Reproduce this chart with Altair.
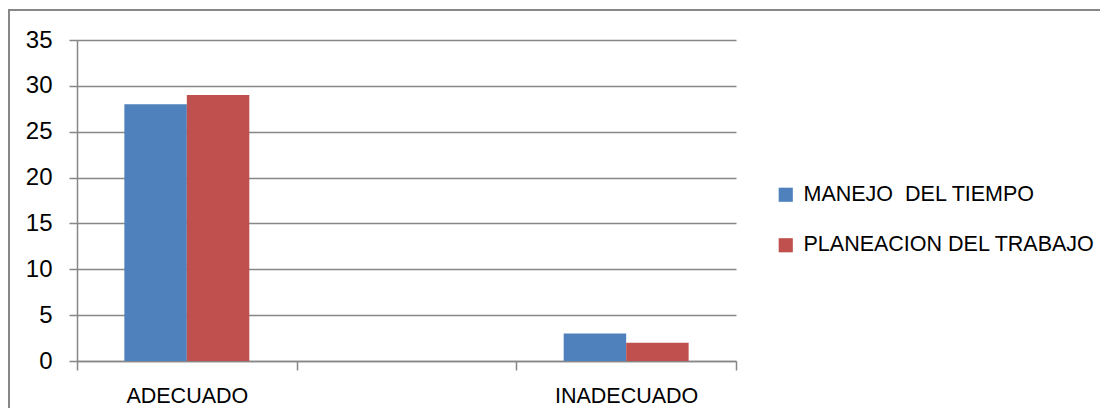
import altair as alt
import pandas as pd

categories = ["ADECUADO", " ", "INADECUADO"]
series = ["MANEJO \u00a0DEL TIEMPO", "PLANEACION DEL TRABAJO"]
manejo = [28, 3]
planeacion = [29, 2]
bar_cats = ["ADECUADO", "INADECUADO"]
y_ticks = [0, 5, 10, 15, 20, 25, 30, 35]
colors = ["#4F81BD", "#C0504D"]
gray = "#878787"
font = "Liberation Sans"

rows = []
for i, c in enumerate(bar_cats):
    rows.append({"cat": c, "serie": series[0], "val": manejo[i]})
    rows.append({"cat": c, "serie": series[1], "val": planeacion[i]})
df = pd.DataFrame(rows)

W, H = 659, 321

bars = alt.Chart(df).mark_bar(stroke=None).encode(
    x=alt.X("cat:N", sort=categories,
            scale=alt.Scale(domain=categories, paddingInner=0, paddingOuter=0),
            axis=alt.Axis(title=None, labelAngle=0, tickBand="extent", tickSize=9,
                          tickColor=gray, domainColor=gray, domainWidth=1.5, tickWidth=1.5,
                          labelFont=font, labelFontSize=21.5, labelColor="#000000",
                          labelPadding=15, grid=False)),
    xOffset=alt.XOffset("serie:N", sort=series,
                        scale=alt.Scale(domain=series, paddingInner=0, paddingOuter=0.758)),
    y=alt.Y("val:Q", scale=alt.Scale(domain=[0, 35], nice=False, zero=True),
            axis=alt.Axis(title=None, values=y_ticks, tickSize=8, tickColor=gray,
                          domainColor=gray, domainWidth=1.5, tickWidth=1.5,
                          gridColor=gray, gridWidth=1.5,
                          labelFont=font, labelFontSize=24, labelColor="#000000",
                          labelPadding=17)),
    color=alt.Color("serie:N", sort=series,
                    scale=alt.Scale(domain=series, range=colors),
                    legend=alt.Legend(title=None, orient="none", legendX=698, legendY=144,
                                      symbolType="square", symbolSize=200,
                                      symbolStrokeWidth=0, labelFont=font,
                                      labelFontSize=21.5, labelColor="#000000",
                                      labelLimit=0, labelOffset=7, rowPadding=27.5,
                                      padding=0)),
)

frame = alt.Chart(pd.DataFrame({"a": [0]})).mark_rect(
    fill=None, fillOpacity=0, stroke=gray, strokeWidth=2
).encode(
    x=alt.value(-68), x2=alt.value(1200), y=alt.value(-30), y2=alt.value(600)
)

chart = alt.layer(frame, bars).properties(
    width=W, height=H,
    autosize=alt.AutoSizeParams(type="none"),
    padding={"left": 69, "top": 32, "right": 364, "bottom": 47},
    background="white",
).configure_view(strokeWidth=0)

chart.save("out.html", embed_options={"renderer": "svg", "actions": False})
